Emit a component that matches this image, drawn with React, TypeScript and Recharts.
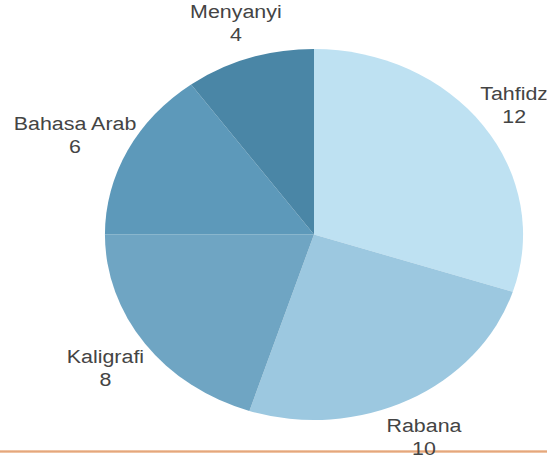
import { PieChart, Pie, Cell } from "recharts"

const categories = ["Tahfidz", "Rabana", "Kaligrafi", "Bahasa Arab", "Menyanyi"]
const counts = [12, 10, 8, 6, 4]
const colors = ["#bee1f2", "#9cc8e0", "#6fa5c3", "#5d99ba", "#4a86a6"]

const data = categories.map((name, i) => ({ name, value: counts[i] }))

// the reference is stretched sideways, so the chart is drawn narrow and widened
const STRETCH = 1.127
const WIDTH = 547 / STRETCH
const HEIGHT = 457
const RADIAN = Math.PI / 180
const FONT = "'Liberation Sans', Arial, sans-serif"

function renderLabel(props: any) {
  const { cx, cy, midAngle, outerRadius, name, value } = props
  const cos = Math.cos(-midAngle * RADIAN)
  const sin = Math.sin(-midAngle * RADIAN)
  // push the label out by roughly half its own width so it clears the pie
  const halfW = String(name).length * 4.6
  const x = cx + (outerRadius * 1.01 + halfW) * cos
  const y = cy + outerRadius * 1.21 * sin + 2
  return (
    <g>
      <text x={x} y={y - 11.5} textAnchor="middle" dominantBaseline="central" fill="#444" fontSize={19} fontFamily={FONT}>
        {name}
      </text>
      <text x={x} y={y + 11.5} textAnchor="middle" dominantBaseline="central" fill="#444" fontSize={19} fontFamily={FONT}>
        {value}
      </text>
    </g>
  )
}

export default function App() {
  return (
    <div style={{ position: "absolute", top: 0, left: 0, width: 547, height: 457, background: "#fff", overflow: "hidden" }}>
      <div
        style={{
          position: "absolute",
          left: 0,
          top: 450,
          width: 547,
          height: 3,
          background: "linear-gradient(#f3d2b8, #e5a77c, #f3d2b8)",
        }}
      />
      <div style={{ position: "absolute", top: 0, left: 0, width: WIDTH, height: HEIGHT, transform: `scaleX(${STRETCH})`, transformOrigin: "0 0" }}>
        <PieChart width={WIDTH} height={HEIGHT} margin={{ top: 0, right: 0, bottom: 0, left: 0 }} style={{ overflow: "visible" }}>
          <Pie
            data={data}
            dataKey="value"
            nameKey="name"
            cx={314 / STRETCH}
            cy={234.5}
            outerRadius={185.5}
            startAngle={90}
            endAngle={-270}
            stroke="none"
            label={renderLabel}
            labelLine={false}
            isAnimationActive={false}
          >
            {data.map((entry, i) => (
              <Cell key={entry.name} fill={colors[i]} />
            ))}
          </Pie>
        </PieChart>
      </div>
    </div>
  )
}
